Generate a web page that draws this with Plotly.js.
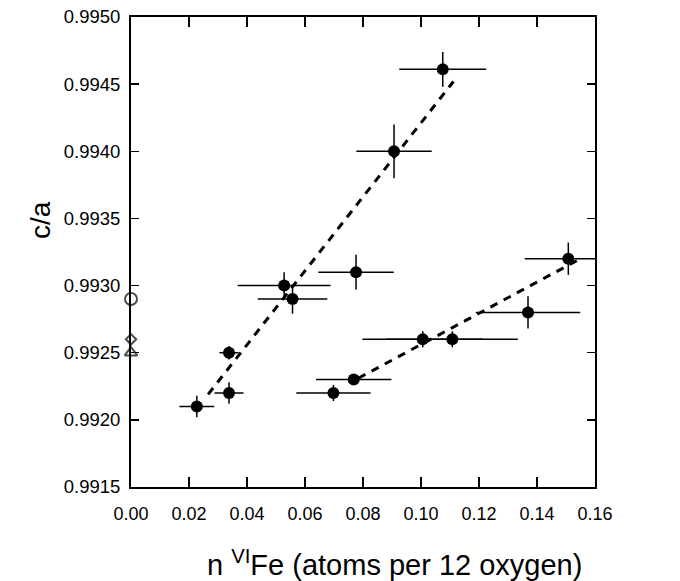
<!DOCTYPE html>
<html>
<head>
<meta charset="utf-8">
<script src="https://cdn.plot.ly/plotly-3.0.1.min.js"></script>
<style>html,body{margin:0;padding:0;background:#fff;}#chart{width:680px;height:581px;}</style>
</head>
<body>
<div id="chart"></div>
<script>
// Measured samples (filled circles)
const nFe   = [0.0227, 0.0338, 0.0338, 0.0528, 0.0557, 0.0776, 0.0907, 0.1075, 0.0698, 0.0768, 0.1006, 0.1108, 0.1369, 0.1508];
const cOverA = [0.9921, 0.9922, 0.9925, 0.9930, 0.9929, 0.9931, 0.9940, 0.99461, 0.9922, 0.9923, 0.9926, 0.9926, 0.9928, 0.9932];
const nFeErr = [0.006, 0.005, 0.0033, 0.016, 0.012, 0.013, 0.013, 0.015, 0.0128, 0.013, 0.0208, 0.0226, 0.018, 0.015];
const cOverAErr = [0.00008, 0.00008, 0.00005, 0.0001, 0.00011, 0.00013, 0.0002, 0.00013, 0.00006, 0.00004, 0.00006, 0.00006, 0.00012, 0.00012];

// Reference values at nFe = 0 (open symbols)
const refX = [0, 0, 0];
const refY = [0.9929, 0.9926, 0.9925];
const refSymbols = ['circle-open', 'diamond-open', 'triangle-up-open'];
const refSizes = [12, 8, 11];

// Dashed trend lines
const trend1X = [0.0266, 0.1112];
const trend1Y = [0.99219, 0.99452];
const trend2X = [0.0784, 0.1550];
const trend2Y = [0.99231, 0.99320];

// Axis ticks
const xTicks = [0.00, 0.02, 0.04, 0.06, 0.08, 0.10, 0.12, 0.14, 0.16];
const yTicks = [0.9915, 0.9920, 0.9925, 0.9930, 0.9935, 0.9940, 0.9945, 0.9950];

const FONT = 'Liberation Sans, Arial, Helvetica, sans-serif';

const traces = [
  {
    x: trend1X, y: trend1Y, mode: 'lines', type: 'scatter',
    line: {color: '#000', width: 3, dash: '8px,7px'}, hoverinfo: 'skip'
  },
  {
    x: trend2X, y: trend2Y, mode: 'lines', type: 'scatter',
    line: {color: '#000', width: 3, dash: '8px,7px'}, hoverinfo: 'skip'
  },
  {
    x: nFe, y: cOverA, mode: 'markers', type: 'scatter',
    marker: {color: '#000', size: 12, symbol: 'circle'},
    error_x: {type: 'data', array: nFeErr, visible: true, color: '#000', thickness: 1.5, width: 0},
    error_y: {type: 'data', array: cOverAErr, visible: true, color: '#000', thickness: 1.5, width: 0}
  },
  {
    x: refX, y: refY, mode: 'markers', type: 'scatter', cliponaxis: false,
    marker: {color: '#000', size: refSizes, symbol: refSymbols, line: {color: '#000', width: 2}}
  }
];

const layout = {
  width: 680, height: 581,
  margin: {l: 131, r: 85, t: 17, b: 94},
  paper_bgcolor: '#fff', plot_bgcolor: '#fff',
  showlegend: false,
  font: {family: FONT, size: 18, color: '#000'},
  xaxis: {
    range: [0, 0.16], tickvals: xTicks, tickformat: '.2f',
    showline: true, linewidth: 2, linecolor: '#000', mirror: 'ticks',
    ticks: 'inside', ticklen: 10, tickwidth: 1.5, tickcolor: '#000',
    showgrid: false, zeroline: false, ticklabelstandoff: 9,
    tickfont: {family: FONT, size: 18, color: '#000'}
  },
  yaxis: {
    range: [0.9915, 0.9950], tickvals: yTicks, tickformat: '.4f',
    showline: true, linewidth: 2, linecolor: '#000', mirror: 'ticks',
    ticks: 'inside', ticklen: 8, tickwidth: 1.5, tickcolor: '#000',
    showgrid: false, zeroline: false, ticklabelstandoff: 5,
    tickfont: {family: FONT, size: 18.5, color: '#000'}
  },
  annotations: [
    {
      text: 'n <sup>VI</sup>Fe (atoms per 12 oxygen)', xref: 'paper', yref: 'paper',
      x: 0.568, y: -0.162, xanchor: 'center', yanchor: 'middle', showarrow: false,
      font: {family: FONT, size: 29, color: '#000'}
    },
    {
      text: 'c/a', xref: 'paper', yref: 'paper', textangle: -90,
      x: -0.196, y: 0.568, xanchor: 'center', yanchor: 'middle', showarrow: false,
      font: {family: FONT, size: 28, color: '#000'}
    }
  ]
};

Plotly.newPlot('chart', traces, layout, {displayModeBar: false, staticPlot: true});
</script>
</body>
</html>
